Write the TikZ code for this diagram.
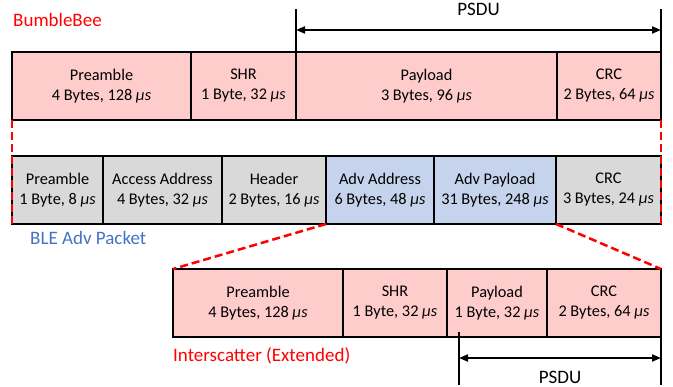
\documentclass[tikz,border=0pt]{standalone}
\usepackage{fontspec}
\setmainfont{Carlito}
\usepackage{tikz}
\usetikzlibrary{positioning, calc, arrows.meta}

\definecolor{bbpink}{RGB}{255,204,204}
\definecolor{blegray}{RGB}{217,217,217}
\definecolor{bleblue}{RGB}{197,212,236}
\definecolor{blelabel}{RGB}{68,114,196}

\begin{document}
\begin{tikzpicture}[x=1pt,y=1pt,
    field/.style={draw, rectangle, line width=2.5pt, minimum width=#1, minimum height=68pt,
                  inner sep=0pt, outer sep=0pt, align=center, font=\fontsize{16.3}{20}\selectfont},
    lbl/.style={inner sep=0pt, font=\fontsize{19}{22}\selectfont},
    zoomline/.style={red, line width=2.5pt, dash pattern=on 8pt off 4pt},
    tick/.style={line width=2pt},
    span/.style={line width=2pt, {Triangle[length=9pt,width=7pt]}-{Triangle[length=9pt,width=7pt]}}]
    \useasboundingbox (0,0) rectangle (673,387);

    % BumbleBee frame
    \node[field=179, fill=bbpink, anchor=west] (bb_0) at (12,301) {Preamble\\4 Bytes, 128 \textit{μs}};
    \node[field=105, fill=bbpink] (bb_1) [right=0pt of bb_0] {SHR\\1 Byte, 32 \textit{μs}};
    \node[field=261, fill=bbpink] (bb_2) [right=0pt of bb_1] {Payload\\3 Bytes, 96 \textit{μs}};
    \node[field=104, fill=bbpink] (bb_3) [right=0pt of bb_2] {CRC\\2 Bytes, 64 \textit{μs}};
    \node[lbl, red, anchor=west] (bb_name) at (13,367) {BumbleBee};

    % BLE advertising packet
    \node[field=91, fill=blegray, anchor=west] (ble_0) at (12,197) {Preamble\\1 Byte, 8 \textit{μs}};
    \node[field=119, fill=blegray] (ble_1) [right=0pt of ble_0] {Access Address\\4 Bytes, 32 \textit{μs}};
    \node[field=104, fill=blegray] (ble_2) [right=0pt of ble_1] {Header\\2 Bytes, 16 \textit{μs}};
    \node[field=108, fill=bleblue] (ble_3) [right=0pt of ble_2] {Adv Address\\6 Bytes, 48 \textit{μs}};
    \node[field=122, fill=bleblue] (ble_4) [right=0pt of ble_3] {Adv Payload\\31 Bytes, 248 \textit{μs}};
    \node[field=105, fill=blegray] (ble_5) [right=0pt of ble_4] {CRC\\3 Bytes, 24 \textit{μs}};
    \node[lbl, blelabel, anchor=west] (ble_name) at ($(ble_0.south west)+(18,-14)$) {BLE Adv Packet};

    % Interscatter frame
    \node[field=170, fill=bbpink, anchor=west] (ix_0) at (173,84) {Preamble\\4 Bytes, 128 \textit{μs}};
    \node[field=104, fill=bbpink] (ix_1) [right=0pt of ix_0] {SHR\\1 Byte, 32 \textit{μs}};
    \node[field=100, fill=bbpink] (ix_2) [right=0pt of ix_1] {Payload\\1 Byte, 32 \textit{μs}};
    \node[field=114, fill=bbpink] (ix_3) [right=0pt of ix_2] {CRC\\2 Bytes, 64 \textit{μs}};
    \node[lbl, red, anchor=west] (ix_name) at (173,31) {Interscatter (Extended)};

    % zoom lines
    \draw[zoomline] (bb_0.south west) -- (ble_0.south west);
    \draw[zoomline] (bb_3.south east) -- (ble_5.south east);
    \draw[zoomline] (ble_3.south west) -- (ix_0.north west);
    \draw[zoomline] (ble_4.south east) -- (ix_3.north east);

    % PSDU spans
    \coordinate (psdu_lt) at ($(bb_2.north west)+(0,43)$);
    \coordinate (psdu_rt) at ($(bb_3.north east)+(0,43)$);
    \draw[tick] (bb_2.north west) -- (psdu_lt);
    \draw[tick] (bb_3.south east) -- (psdu_rt);
    \coordinate (psdu_l) at ($(bb_2.north west)+(0,22)$);
    \coordinate (psdu_r) at ($(bb_3.north east)+(0,22)$);
    \draw[span] (psdu_l) -- (psdu_r) node[lbl, midway, above=13pt] (psdu_top) {PSDU};

    \coordinate (psdu2_lt) at ($(ix_2.south west)+(12,5)$);
    \coordinate (psdu2_lb) at ($(ix_2.south west)+(12,-48)$);
    \coordinate (psdu2_rb) at ($(ix_3.south east)+(0,-48)$);
    \draw[tick] (psdu2_lt) -- (psdu2_lb);
    \draw[tick] (ix_3.south east) -- (psdu2_rb);
    \coordinate (psdu2_l) at ($(ix_2.south west)+(12,-21)$);
    \coordinate (psdu2_r) at ($(ix_3.south east)+(0,-21)$);
    \draw[span] (psdu2_l) -- (psdu2_r) node[lbl, midway, below=12pt] (psdu_bot) {PSDU};
\end{tikzpicture}
\end{document}
